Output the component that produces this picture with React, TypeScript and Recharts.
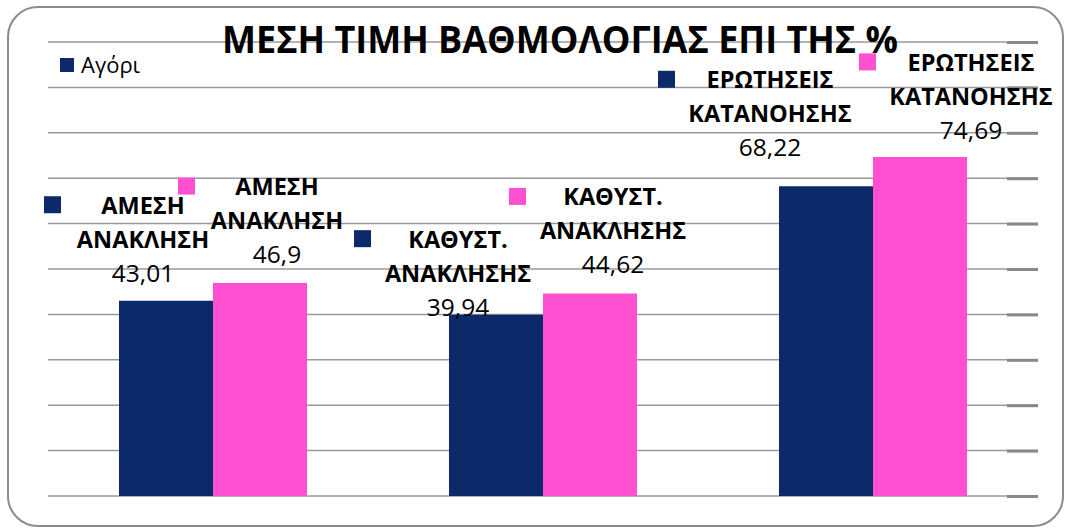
import { BarChart, Bar, XAxis, YAxis, CartesianGrid, LabelList } from "recharts";

const CATEGORIES = ["ΑΜΕΣΗ ΑΝΑΚΛΗΣΗ", "ΚΑΘΥΣΤ. ΑΝΑΚΛΗΣΗΣ", "ΕΡΩΤΗΣΕΙΣ ΚΑΤΑΝΟΗΣΗΣ"];
const BOYS = [43.01, 39.94, 68.22];
const GIRLS = [46.9, 44.62, 74.69];
const SERIES_NAMES = ["Αγόρι", "Κορίτσι"];
const Y_TICKS = [0, 10, 20, 30, 40, 50, 60, 70, 80, 90, 100];
const TITLE = "ΜΕΣΗ ΤΙΜΗ ΒΑΘΜΟΛΟΓΙΑΣ ΕΠΙ ΤΗΣ %";

const NAVY = "#0c2a6a";
const PINK = "#ff50d2";
const FONT = "'Open Sans', sans-serif";

// labels were dragged around by hand in the original, so nudge each one
const LABEL_DX: Record<string, number[]> = { boys: [-23, -38, -56], girls: [17, 23, 51] };
const LABEL_RISE: Record<string, number[]> = { boys: [28, 8, 39], girls: [29, 29, 27] };
const KEY_GAP = [82, 87, 95];

const data = CATEGORIES.map((name, i) => ({ name, boys: BOYS[i], girls: GIRLS[i] }));

const fmt = (v: number) => String(v).replace(".", ",");

function makeLabel(key: "boys" | "girls", color: string) {
  return (props: any) => {
    const { x, y, width, value } = props;
    let index = props.index;
    if (index == null) index = data.findIndex((d) => d[key] === value);
    const cx = Number(x) + Number(width) / 2 + LABEL_DX[key][index];
    const vy = Number(y) - LABEL_RISE[key][index];
    const [l1, l2] = CATEGORIES[index].split(" ");
    const step = 34;
    return (
      <g>
        <rect x={cx - KEY_GAP[index] - 17} y={vy - 2 * step - 8.5} width={17} height={17} fill={color} />
        <text x={cx} y={vy - 2 * step + 9} textAnchor="middle" fontFamily={FONT} fontWeight={700} fontSize={23.5} fill="#000">
          {l1}
        </text>
        <text x={cx} y={vy - step + 9} textAnchor="middle" fontFamily={FONT} fontWeight={700} fontSize={23.5} fill="#000">
          {l2}
        </text>
        <text x={cx} y={vy + 9} textAnchor="middle" fontFamily={FONT} fontSize={24.5} fill="#000">
          {fmt(data[index][key])}
        </text>
      </g>
    );
  };
}

// gridline plus the short darker tick mark at its right end
function GridLine(props: any) {
  const { x1, x2, y1, y2 } = props;
  return (
    <g>
      <line x1={x1} x2={x2} y1={y1} y2={y2} stroke="#9a9a9a" strokeWidth={1.5} />
      <line x1={Number(x2) - 31} x2={x2} y1={Number(y1) + 0.5} y2={Number(y2) + 0.5} stroke="#888" strokeWidth={3} />
    </g>
  );
}

export default function App() {
  return (
    <div style={{ position: "absolute", left: 0, top: 0, width: 1066, height: 528 }}>
      <BarChart
        width={1066}
        height={528}
        data={data}
        margin={{ top: 42, right: 28, bottom: 32, left: 48 }}
        barGap={0}
      >
        <CartesianGrid vertical={false} horizontal={(p: any) => <GridLine key={p.key} {...p} />} />
        <XAxis dataKey="name" hide />
        <YAxis
          orientation="right"
          domain={[0, 100]}
          ticks={Y_TICKS}
          width={0}
          mirror
          axisLine={false}
          tickLine={false}
          tick={() => <g />}
        />
        <Bar dataKey="boys" name={SERIES_NAMES[0]} fill={NAVY} barSize={94} isAnimationActive={false}>
          <LabelList dataKey="boys" content={makeLabel("boys", NAVY)} />
        </Bar>
        <Bar dataKey="girls" name={SERIES_NAMES[1]} fill={PINK} barSize={94} isAnimationActive={false}>
          <LabelList dataKey="girls" content={makeLabel("girls", PINK)} />
        </Bar>
      </BarChart>
      <svg
        width={1066}
        height={528}
        style={{ position: "absolute", left: 0, top: 0, pointerEvents: "none" }}
      >
        <rect x={8} y={7} width={1055} height={519} rx={30} fill="none" stroke="#8c8c8c" strokeWidth={2} />
        <text
          x={222}
          y={53}
          fontFamily={FONT}
          fontWeight={700}
          fontSize={38}
          textLength={676}
          lengthAdjust="spacingAndGlyphs"
          fill="#000"
        >
          {TITLE}
        </text>
        <rect x={60} y={58} width={14} height={14} fill={NAVY} />
        <text x={81} y={73} fontFamily={FONT} fontSize={22} fill="#000">
          {SERIES_NAMES[0]}
        </text>
      </svg>
    </div>
  );
}
